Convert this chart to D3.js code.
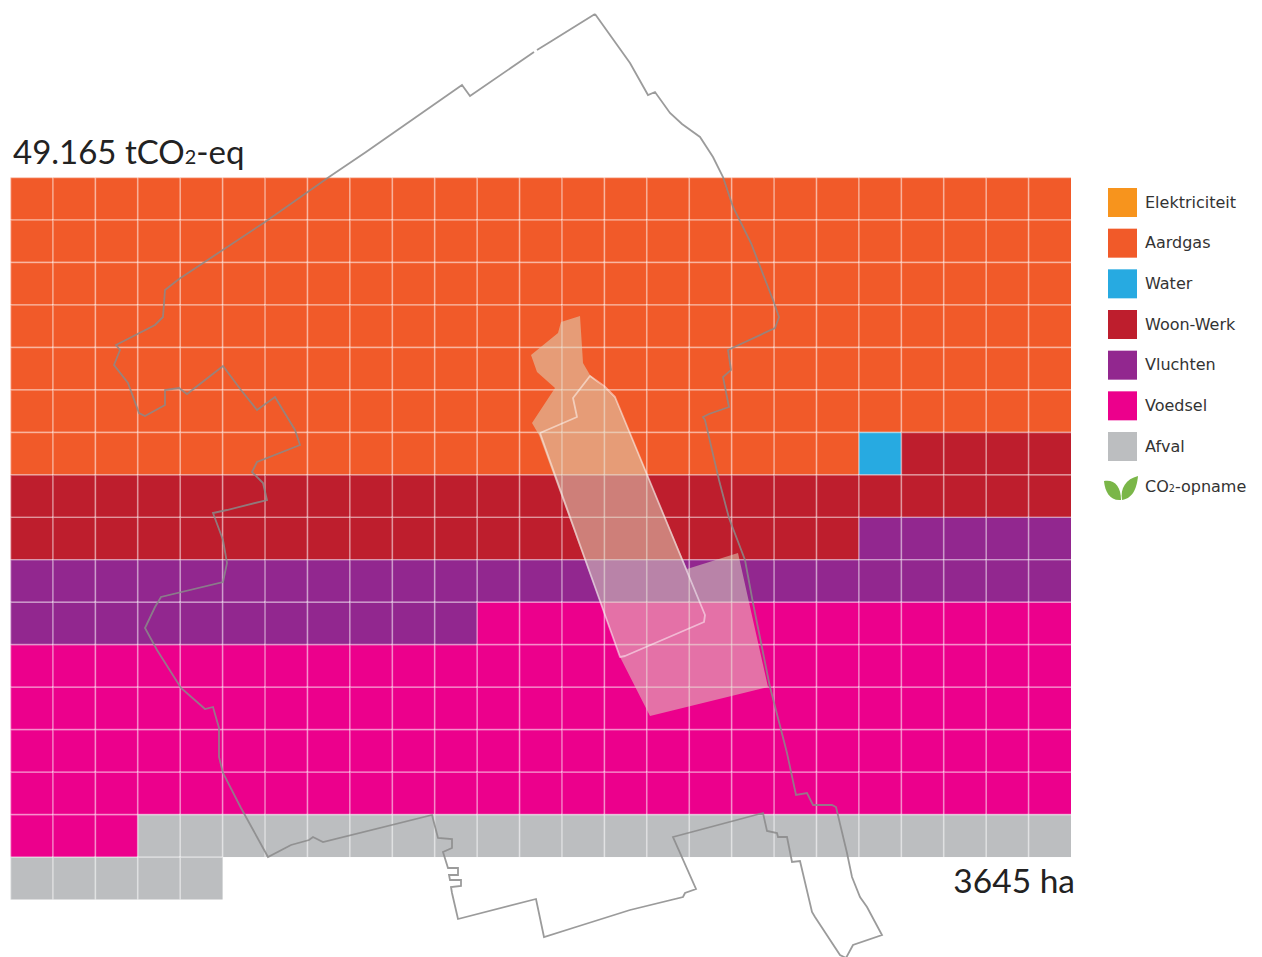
<!DOCTYPE html>
<html>
<head>
<meta charset="utf-8">
<title>CO2 raster</title>
<script src="https://cdn.jsdelivr.net/npm/d3@7"></script>
<style>
    html, body { margin: 0; padding: 0; background: #fff; }
    svg { display: block; }
</style>
</head>
<body>
<div id="chart"></div>
<script>
// Legend order, one square per unit, filled left to right and top to bottom
const categories = ['Elektriciteit', 'Aardgas', 'Water', 'Woon-Werk', 'Vluchten', 'Voedsel', 'Afval'];
const cellCounts = [0, 170, 1, 49, 41, 117, 27];
const categoryColors = ['#F7941D', '#F15A29', '#27AAE1', '#BE1E2D', '#92278F', '#EC008C', '#BCBEC0'];
const uptakeLabel = ['CO', '2', '-opname'];
const totalLabel = ['49.165 tCO', '2', '-eq'];
const areaLabel = '3645 ha';
const columnCount = 25;
const rowCount = 17;

// Map shapes in map units. null breaks the line.
const boundary = [
    [595, 14], [550, 42], [537, 50], null, [534, 52], [470, 96], [462, 85], [366, 152], [329, 177], [265, 222],
    [179, 279], [165, 290], [163, 317], [155, 325], [116, 345], [120, 350], [114, 365], [128, 383],
    [139, 413], [145, 416], [165, 405], [165, 390], [179, 388], [187, 394], [223, 366], [241, 390],
    [257, 410], [275, 397], [295, 430], [300, 445], [257, 462], [252, 472], [263, 483], [267, 500],
    [227, 510], [213, 513], [223, 540], [227, 563], [223, 582], [161, 597], [155, 607], [145, 628],
    [157, 650], [181, 688], [205, 709], [213, 707], [219, 728], [219, 757], [223, 773], [241, 808],
    [268, 857], [291, 845], [309, 840], [313, 837], [323, 842], [432, 815], [438, 838], [452, 839],
    [452, 848], [443, 852], [448, 868], [458, 868], [458, 875], [449, 875], [450, 880], [461, 880],
    [461, 886], [451, 887], [452, 893], [458, 919], [536, 899], [544, 937], [576, 927], [630, 910],
    [683, 897], [685, 893], [696, 889], [673, 837], [763, 813], [767, 831], [777, 833], [778, 837],
    [787, 837], [792, 862], [800, 861], [812, 912], [815, 917], [840, 955], [846, 958], [853, 945],
    [882, 935], [867, 907], [860, 897], [852, 877], [847, 853], [836, 807], [832, 805], [813, 805],
    [807, 793], [796, 795], [787, 753], [770, 687], [753, 603], [745, 560], [729, 518], [719, 480],
    [705, 420], [703, 417], [709, 414], [729, 407], [723, 377], [731, 370], [728, 350], [775, 328],
    [779, 317], [773, 300], [751, 243], [733, 207], [723, 177], [713, 157], [700, 137], [682, 124],
    [670, 113], [655, 92], [648, 95], [630, 63], [595, 14]
];
const plannedArea = [
    [580, 316], [561, 322], [558, 333], [531, 355], [537, 372], [555, 388], [532, 423], [539, 435],
    [620, 657], [650, 716], [768, 687], [738, 553], [687, 569], [615, 397], [590, 375], [583, 363],
    [582, 347], [580, 316]
];
const plannedRoute = [
    [540, 433], [577, 417], [573, 398], [590, 376], [604, 386], [615, 397], [705, 615], [704, 622],
    [625, 656], [620, 657], [540, 433]
];

class WaffleChart {
    constructor(containerId) {
        this.containerId = containerId;
        this.width = 1262;
        this.height = 957;
        this.svg = null;
    }

    init() {
        this.svg = d3.select(`#${this.containerId}`)
            .append('svg')
            .attr('width', this.width)
            .attr('height', this.height);

        this.x = d3.scaleLinear().domain([0, columnCount]).range([10.5, 1071]);
        this.y = d3.scaleLinear().domain([0, rowCount]).range([177.5, 899.5]);
        this.mapX = d3.scaleLinear().domain([0, this.width]).range([0, this.width]);
        this.mapY = d3.scaleLinear().domain([0, this.height]).range([0, this.height]);
        this.color = d3.scaleOrdinal().domain(categories).range(categoryColors);
        this.legendY = d3.scalePoint().domain(categories).range([188, 432]);
    }

    buildCells() {
        const cells = [];
        categories.forEach((category, i) => {
            d3.range(cellCounts[i]).forEach(() => {
                const index = cells.length;
                cells.push({
                    category,
                    col: index % columnCount,
                    row: Math.floor(index / columnCount)
                });
            });
        });
        return cells;
    }

    drawWaffle() {
        const cells = this.buildCells();

        this.svg.append('g')
            .selectAll('rect')
            .data(cells)
            .join('rect')
            .attr('x', d => this.x(d.col))
            .attr('y', d => this.y(d.row))
            .attr('width', this.x(1) - this.x(0))
            .attr('height', this.y(1) - this.y(0))
            .attr('fill', d => this.color(d.category));

        // Only the left and top side of a cell, so no line is painted twice
        this.svg.append('g')
            .selectAll('path')
            .data(cells)
            .join('path')
            .attr('d', d => {
                const left = this.x(d.col);
                const top = this.y(d.row);
                const bottom = this.y(d.row + 1);
                const right = this.x(d.col + 1);
                return `M${left},${bottom}V${top}H${right}`;
            })
            .attr('fill', 'none')
            .attr('stroke', '#fff')
            .attr('stroke-opacity', 0.42)
            .attr('stroke-width', 1.7);
    }

    drawMap() {
        const line = d3.line()
            .defined(d => d !== null)
            .x(d => this.mapX(d[0]))
            .y(d => this.mapY(d[1]));

        this.svg.append('path')
            .attr('d', line(plannedArea))
            .attr('fill', '#dcd8c0')
            .attr('fill-opacity', 0.52);

        this.svg.append('path')
            .attr('d', line(plannedRoute))
            .attr('fill', 'none')
            .attr('stroke', '#fff')
            .attr('stroke-opacity', 0.5)
            .attr('stroke-width', 1.8)
            .attr('stroke-linejoin', 'round');

        this.svg.append('path')
            .attr('d', line(boundary))
            .attr('fill', 'none')
            .attr('stroke', '#8a8a8a')
            .attr('stroke-opacity', 0.85)
            .attr('stroke-width', 1.8);
    }

    addSubscriptText(x, y, size, parts, fill, family) {
        const text = this.svg.append('text')
            .attr('x', x)
            .attr('y', y)
            .attr('fill', fill)
            .style('font-family', family)
            .style('font-size', `${size}px`);
        text.append('tspan').text(parts[0]);
        text.append('tspan').style('font-size', `${size * 0.6}px`).text(parts[1]);
        text.append('tspan').text(parts[2]);
        return text;
    }

    drawLabels() {
        this.addSubscriptText(13, 164, 33, totalLabel, '#222', 'Lato, "Open Sans", sans-serif');

        this.svg.append('text')
            .attr('x', 1075)
            .attr('y', 893)
            .attr('text-anchor', 'end')
            .attr('fill', '#222')
            .style('font-family', 'Lato, "Open Sans", sans-serif')
            .style('font-size', '33.5px')
            .text(areaLabel);
    }

    drawLegend() {
        const side = 29;
        const fontSize = 16;
        const family = '"DejaVu Sans", sans-serif';
        const rows = this.svg.append('g')
            .selectAll('g')
            .data(categories)
            .join('g')
            .attr('transform', d => `translate(1108,${this.legendY(d)})`);

        rows.append('rect')
            .attr('width', side)
            .attr('height', side)
            .attr('fill', d => this.color(d));

        rows.append('text')
            .attr('x', 37)
            .attr('y', side / 2 + 5)
            .attr('fill', '#333')
            .style('font-family', family)
            .style('font-size', `${fontSize}px`)
            .text(d => d);

        // Leaf icon for the uptake row
        const leaf = this.svg.append('g')
            .attr('transform', 'translate(1104,476)')
            .attr('fill', '#7AB648');
        leaf.append('path').attr('d', 'M0,5C10,3 17,10 17,24C6,25 1,16 0,5Z');
        leaf.append('path').attr('d', 'M34,0C33,10 30,22 18,24C16,12 22,3 34,0Z');

        this.addSubscriptText(1145, 492, fontSize, uptakeLabel, '#333', family);
    }

    update() {
        if (!this.svg) {
            this.init();
        }
        this.drawWaffle();
        this.drawMap();
        this.drawLabels();
        this.drawLegend();
    }
}

const chart = new WaffleChart('chart');
chart.update();
</script>
</body>
</html>
